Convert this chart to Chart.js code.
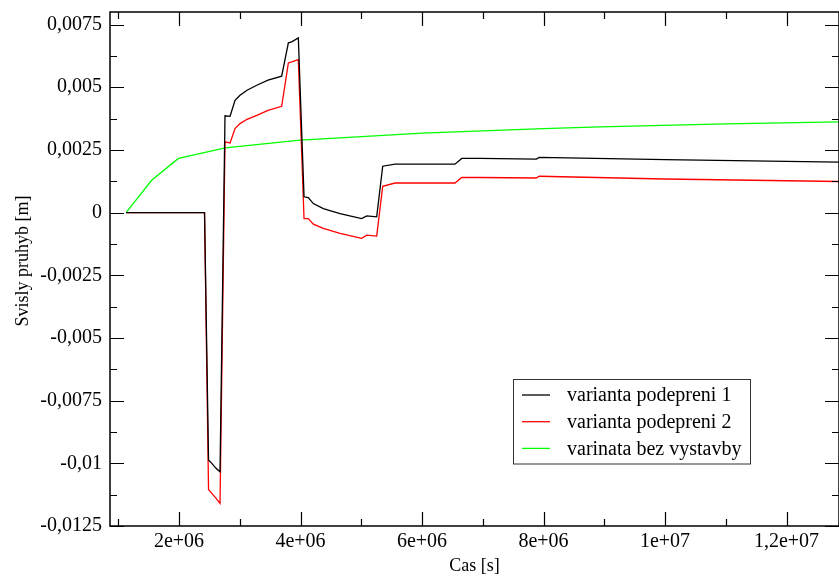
<!doctype html>
<html>

<head>
	<title>Svisly pruhyb</title>
	<script src="https://cdn.jsdelivr.net/npm/chart.js@4/dist/chart.umd.min.js"></script>
	<style>
		html, body { margin: 0; padding: 0; background: #fff; }
		#wrap { width: 839px; height: 579px; }
	</style>
</head>

<body>
	<div id="wrap"><canvas id="canvas"></canvas></div>
	<script>
		// cas [s] and svisly pruhyb [m]
		const casPodepreni = [1.128e6, 2.42e6, 2.486e6, 2.54e6, 2.61e6, 2.675e6, 2.757e6, 2.84e6, 2.922e6, 3.004e6,
			3.12e6, 3.28e6, 3.465e6, 3.69e6, 3.8e6, 3.855e6, 3.964e6, 4.058e6, 4.128e6, 4.211e6, 4.375e6, 4.65e6,
			5.007e6, 5.09e6, 5.254e6, 5.353e6, 5.556e6, 6.543e6, 6.654e6, 6.955e6, 7.88e6, 7.93e6, 1.0e7, 1.288e7];
		const podepreni1 = [0, 0, -0.00987, -0.0100, -0.0102, -0.01034, 0.00386, 0.00384, 0.00448, 0.00468,
			0.00488, 0.00508, 0.00528, 0.00544, 0.00677, 0.00681, 0.00697, 0.00063, 0.0006, 0.00036, 0.00016, -0.00004,
			-0.00024, -0.00013, -0.00017, 0.00185, 0.00193, 0.00193, 0.00216, 0.00216, 0.00213, 0.0022, 0.00211, 0.00201];
		const podepreni2 = [0, 0, -0.01104, -0.0112, -0.0114, -0.0116, 0.00282, 0.00278, 0.00335, 0.00355,
			0.00372, 0.00388, 0.00408, 0.00424, 0.00597, 0.00601, 0.0061, -0.00024, -0.00024, -0.00046, -0.00063, -0.00083,
			-0.00103, -0.0009, -0.00094, 0.00105, 0.00118, 0.00118, 0.0014, 0.0014, 0.00138, 0.00145, 0.00134, 0.00124];

		const casBezVystavby = [1.128e6, 1.55e6, 1.99e6, 2.76e6, 3.99e6, 4.65e6, 6e6, 8e6, 8.93e6, 1.1e7, 1.288e7];
		const bezVystavby = [0, 0.00129, 0.00216, 0.00258, 0.00289, 0.00298, 0.00317, 0.00335, 0.00342, 0.00354, 0.00362];

		const xTicks = [2e6, 4e6, 6e6, 8e6, 1e7, 1.2e7];
		const yTicks = [-0.0125, -0.01, -0.0075, -0.005, -0.0025, 0, 0.0025, 0.005, 0.0075];

		const FONT = 'Liberation Serif';

		const toPoints = (xs, ys) => xs.map((x, i) => ({ x: x, y: ys[i] }));

		const fmtY = (v) => {
			if (Math.abs(v) < 1e-12) return '0';
			return String(+v.toFixed(4)).replace('.', ',');
		};
		const fmtX = (v) => {
			const e = Math.floor(Math.log10(v) + 1e-9);
			const m = +(v / Math.pow(10, e)).toFixed(3);
			return String(m).replace('.', ',') + 'e+' + String(e).padStart(2, '0');
		};

		// frame with inward major/minor ticks on all four sides, plus the legend box
		const gracePlugin = {
			id: 'grace',
			afterDraw(chart) {
				const ctx = chart.ctx;
				const a = chart.chartArea;
				const xs = chart.scales.x;
				const ys = chart.scales.y;
				ctx.save();
				ctx.strokeStyle = '#000';
				ctx.lineWidth = 1.5;
				ctx.strokeRect(a.left, a.top, a.right - a.left, a.bottom - a.top);

				ctx.lineWidth = 1.2;
				ctx.beginPath();
				for (let v = 1e6; v <= xs.max; v += 1e6) {
					const px = Math.round(xs.getPixelForValue(v)) + 0.5;
					const len = (Math.round(v / 1e6) % 2 === 0) ? 14 : 7;
					ctx.moveTo(px, a.bottom); ctx.lineTo(px, a.bottom - len);
					ctx.moveTo(px, a.top); ctx.lineTo(px, a.top + len);
				}
				for (let k = -10; k <= 6; k++) {
					const v = k * 0.00125;
					const py = Math.round(ys.getPixelForValue(v)) + 0.5;
					const len = (k % 2 === 0) ? 14 : 7;
					ctx.moveTo(a.left, py); ctx.lineTo(a.left + len, py);
					ctx.moveTo(a.right, py); ctx.lineTo(a.right - len, py);
				}
				ctx.stroke();

				// y axis title, placed by hand like the original
				ctx.save();
				ctx.translate(23, 261);
				ctx.rotate(-Math.PI / 2);
				ctx.font = '18px "' + FONT + '"';
				ctx.textAlign = 'center';
				ctx.textBaseline = 'middle';
				ctx.fillStyle = '#000';
				ctx.fillText('Svisly pruhyb [m]', 0, 0);
				ctx.restore();

				// legend
				const bx = 513.5, by = 379.5, bw = 237, bh = 84.5;
				ctx.fillStyle = '#fff';
				ctx.fillRect(bx, by, bw, bh);
				ctx.strokeStyle = '#333';
				ctx.lineWidth = 1;
				ctx.strokeRect(bx, by, bw, bh);
				ctx.font = '20px "' + FONT + '"';
				ctx.textBaseline = 'middle';
				ctx.textAlign = 'left';
				chart.data.datasets.forEach((ds, i) => {
					const y = 395 + i * 26.7;
					ctx.strokeStyle = ds.borderColor;
					ctx.lineWidth = 1.3;
					ctx.beginPath();
					ctx.moveTo(522, y); ctx.lineTo(550, y);
					ctx.stroke();
					ctx.fillStyle = '#000';
					ctx.fillText(ds.label, 567, y + 1);
				});
				ctx.restore();
			}
		};

		const config = {
			type: 'line',
			data: {
				datasets: [{
					label: 'varianta podepreni 1',
					data: toPoints(casPodepreni, podepreni1),
					borderColor: '#000000'
				}, {
					label: 'varianta podepreni 2',
					data: toPoints(casPodepreni, podepreni2),
					borderColor: '#ff0000'
				}, {
					label: 'varinata bez vystavby',
					data: toPoints(casBezVystavby, bezVystavby),
					borderColor: '#00ff00'
				}]
			},
			options: {
				responsive: true,
				maintainAspectRatio: false,
				animation: false,
				layout: { padding: { left: 0, right: 0, top: 12, bottom: 0 } },
				elements: {
					point: { radius: 0 },
					line: { borderWidth: 1.3, tension: 0, fill: false }
				},
				plugins: {
					legend: { display: false },
					tooltip: { enabled: false }
				},
				scales: {
					x: {
						type: 'linear',
						min: 0.864e6,
						max: 1.2864e7,
						grid: { display: false, drawTicks: false },
						border: { display: false },
						afterBuildTicks: (s) => { s.ticks = xTicks.map(v => ({ value: v })); },
						afterFit: (s) => { s.height = 53; s.paddingLeft = 0; s.paddingRight = 0; },
						ticks: {
							autoSkip: false,
							maxRotation: 0,
							padding: 4,
							color: '#000',
							font: { family: FONT, size: 20 },
							callback: (v) => fmtX(v)
						},
						title: {
							display: true,
							text: 'Cas [s]',
							color: '#000',
							font: { family: FONT, size: 18 },
							padding: { top: 0, bottom: 2 }
						}
					},
					y: {
						min: -0.0125,
						max: 0.008,
						grid: { display: false, drawTicks: false },
						border: { display: false },
						afterBuildTicks: (s) => { s.ticks = yTicks.map(v => ({ value: v })); },
						afterFit: (s) => { s.width = 110; s.paddingTop = 0; s.paddingBottom = 0; },
						ticks: {
							autoSkip: false,
							padding: 8,
							color: '#000',
							font: { family: FONT, size: 20 },
							callback: (v) => fmtY(v)
						}
					}
				}
			},
			plugins: [gracePlugin]
		};

		window.onload = function() {
			window.myChart = new Chart(document.getElementById('canvas'), config);
		};
	</script>
</body>

</html>
